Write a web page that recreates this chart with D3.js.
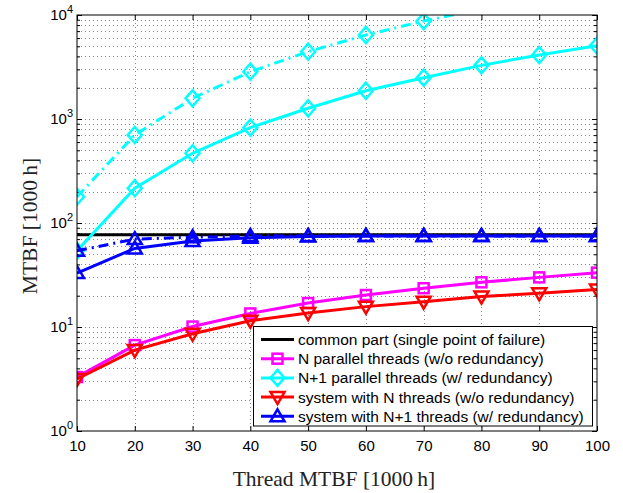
<!DOCTYPE html>
<html>
<head>
<meta charset="utf-8">
<script src="https://cdn.jsdelivr.net/npm/d3@7"></script>
<style>
  body { margin: 0; background: #fff; }
  svg { display: block; }
  .tick text { font-family: "Liberation Sans", Arial, sans-serif; font-size: 15px; fill: #000; }
  .axisTitle { font-family: "Liberation Serif", "Times New Roman", serif; font-size: 21.5px; fill: #222; }
  .legend text { font-family: "Liberation Sans", Arial, sans-serif; font-size: 15.5px; fill: #000; }
</style>
</head>
<body>
<svg id="chart" width="623" height="493"></svg>
<script>
// thread MTBF [1000 h]
let threadMtbf = [10, 20, 30, 40, 50, 60, 70, 80, 90, 100]

// MTBF values [1000 h]
let commonPart = [77, 77, 77, 77, 77, 77, 77, 77, 77, 77]
let nParallel = [3.3, 6.7, 10.1, 13.5, 17.0, 20.3, 23.6, 26.9, 30.0, 33.3]
let n1Parallel = [54, 216, 468, 825, 1268, 1870, 2496, 3280, 4125, 5070]
let n1ParallelAlt = [179, 702, 1581, 2851, 4437, 6420, 8750, 11400]
let nSystem = [3.16, 6.0, 8.6, 11.5, 13.6, 15.7, 17.5, 19.6, 21.1, 23.0]
let n1System = [33, 57, 67, 72, 74, 75, 75, 75, 75, 75]
let n1SystemAlt = [54, 70, 73, 75, 75, 75, 75, 75, 75, 75]

let xTicks = [10, 20, 30, 40, 50, 60, 70, 80, 90, 100]
let yTicks = [1, 10, 100, 1000, 10000]

let legendLabels = [
    "common part (single point of failure)",
    "N parallel threads (w/o redundancy)",
    "N+1 parallel threads (w/ redundancy)",
    "system with N threads (w/o redundancy)",
    "system with N+1 threads (w/ redundancy)"
]

let series = [
    {values: commonPart, color: "#000000", marker: null, dash: null},
    {values: nParallel, color: "#ff00ff", marker: "square", dash: null},
    {values: n1Parallel, color: "#00ffff", marker: "diamond", dash: null},
    {values: n1ParallelAlt, color: "#00ffff", marker: "diamond", dash: "10,5,2,5"},
    {values: nSystem, color: "#ff0000", marker: "down", dash: null},
    {values: n1System, color: "#0000ff", marker: "up", dash: null},
    {values: n1SystemAlt, color: "#0000ff", marker: "up", dash: "10,5,2,5"}
]
let legendSeries = [0, 1, 2, 4, 5]

let svg = d3.select("#chart")
let pLeft = 77, pRight = 597, pTop = 15, pBottom = 431

let x = d3.scaleLinear([10, 100], [pLeft, pRight])
let y = d3.scaleLog([1, 10000], [pBottom, pTop])

// grid
let minorY = []
for (let k = 0; k < 4; k++) {
    for (let m = 1; m <= 9; m++) {
        let v = m * Math.pow(10, k)
        if (v > 1) minorY.push(v)
    }
}
let grid = svg.append("g").attr("stroke", "#888").attr("stroke-width", 1).attr("stroke-dasharray", "1,3")
grid.selectAll("line.gx")
    .data(xTicks.slice(1, -1))
    .enter().append("line")
    .attr("x1", d => Math.round(x(d)) + 0.5).attr("x2", d => Math.round(x(d)) + 0.5)
    .attr("y1", pTop).attr("y2", pBottom)
grid.selectAll("line.gy")
    .data(minorY)
    .enter().append("line")
    .attr("x1", pLeft).attr("x2", pRight)
    .attr("y1", d => Math.round(y(d)) + 0.5).attr("y2", d => Math.round(y(d)) + 0.5)

// axes with inside ticks
let xAxis = svg.append("g").attr("transform", `translate(0,${pBottom})`)
    .call(d3.axisBottom(x).tickValues(xTicks).tickSize(-5).tickPadding(9).tickFormat(d3.format("d")))
svg.append("g").attr("transform", `translate(0,${pTop})`)
    .call(d3.axisTop(x).tickValues(xTicks).tickSize(-5).tickFormat(""))

let minorOnly = minorY.filter(v => yTicks.indexOf(v) < 0)
let yAxis = svg.append("g").attr("transform", `translate(${pLeft},0)`)
    .call(d3.axisLeft(y).tickValues(yTicks).tickSize(-5).tickPadding(4).tickFormat(""))
svg.append("g").attr("transform", `translate(${pRight},0)`)
    .call(d3.axisRight(y).tickValues(yTicks).tickSize(-5).tickFormat(""))
svg.append("g").attr("transform", `translate(${pLeft},0)`)
    .call(d3.axisLeft(y).tickValues(minorOnly).tickSize(-3).tickFormat(""))
svg.append("g").attr("transform", `translate(${pRight},0)`)
    .call(d3.axisRight(y).tickValues(minorOnly).tickSize(-3).tickFormat(""))

svg.selectAll(".domain").remove()
svg.selectAll(".tick line").attr("stroke", "#000")

yAxis.selectAll(".tick text").each(function (d) {
    let t = d3.select(this)
    t.attr("dy", "0.32em")
    t.append("tspan").text("10")
    t.append("tspan").attr("dy", "-7").style("font-size", "11px").text(Math.round(Math.log10(d)))
})

// data lines
let clip = svg.append("clipPath").attr("id", "plotClip")
clip.append("rect").attr("x", pLeft).attr("y", pTop).attr("width", pRight - pLeft).attr("height", pBottom - pTop)

let plot = svg.append("g").attr("clip-path", "url(#plotClip)")
let line = d3.line().x((d, i) => x(threadMtbf[i])).y(d => y(d))

function drawMarker(g, type, cx, cy, color) {
    if (type === "square") {
        g.append("rect").attr("x", cx - 5).attr("y", cy - 5).attr("width", 10).attr("height", 10)
            .attr("fill", "none").attr("stroke", color).attr("stroke-width", 2.5)
    } else if (type === "diamond") {
        g.append("path").attr("d", `M${cx},${cy - 8}L${cx + 7},${cy}L${cx},${cy + 8}L${cx - 7},${cy}Z`)
            .attr("fill", "none").attr("stroke", color).attr("stroke-width", 2.5)
    } else if (type === "up") {
        g.append("path").attr("d", `M${cx},${cy - 7}L${cx + 7},${cy + 5}L${cx - 7},${cy + 5}Z`)
            .attr("fill", "none").attr("stroke", color).attr("stroke-width", 2.5)
    } else if (type === "down") {
        g.append("path").attr("d", `M${cx},${cy + 7}L${cx + 7},${cy - 5}L${cx - 7},${cy - 5}Z`)
            .attr("fill", "none").attr("stroke", color).attr("stroke-width", 2.5)
    }
}

series.forEach(s => {
    plot.append("path")
        .attr("d", line(s.values))
        .attr("fill", "none")
        .attr("stroke", s.color)
        .attr("stroke-width", 3)
        .attr("stroke-dasharray", s.dash)
    if (s.marker) {
        s.values.forEach((v, i) => {
            // points outside the axis range get no marker
            if (v <= 10000) drawMarker(plot, s.marker, x(threadMtbf[i]), y(v), s.color)
        })
    }
})

// frame
svg.append("rect").attr("x", pLeft).attr("y", pTop).attr("width", pRight - pLeft).attr("height", pBottom - pTop)
    .attr("fill", "none").attr("stroke", "#000").attr("stroke-width", 1)

// legend
let legend = svg.append("g").attr("class", "legend")
legend.append("rect").attr("x", 253.5).attr("y", 326.5).attr("width", 339).attr("height", 99.5)
    .attr("fill", "#fff").attr("stroke", "#000").attr("stroke-width", 1)
legendSeries.forEach((si, i) => {
    let s = series[si]
    let ly = 339.5 + i * 19.2
    legend.append("line").attr("x1", 261).attr("x2", 294).attr("y1", ly).attr("y2", ly)
        .attr("stroke", s.color).attr("stroke-width", 3)
    if (s.marker) drawMarker(legend, s.marker, 277.5, ly, s.color)
    legend.append("text").attr("x", 298).attr("y", ly).attr("dy", "0.35em").text(legendLabels[i])
})

// axis titles
svg.append("text").attr("class", "axisTitle")
    .attr("x", 334).attr("y", 486).attr("text-anchor", "middle")
    .text("Thread MTBF [1000\u2009h]")
svg.append("text").attr("class", "axisTitle")
    .attr("transform", `translate(37,226) rotate(-90)`)
    .attr("text-anchor", "middle")
    .text("MTBF [1000\u2009h]")
</script>
</body>
</html>
